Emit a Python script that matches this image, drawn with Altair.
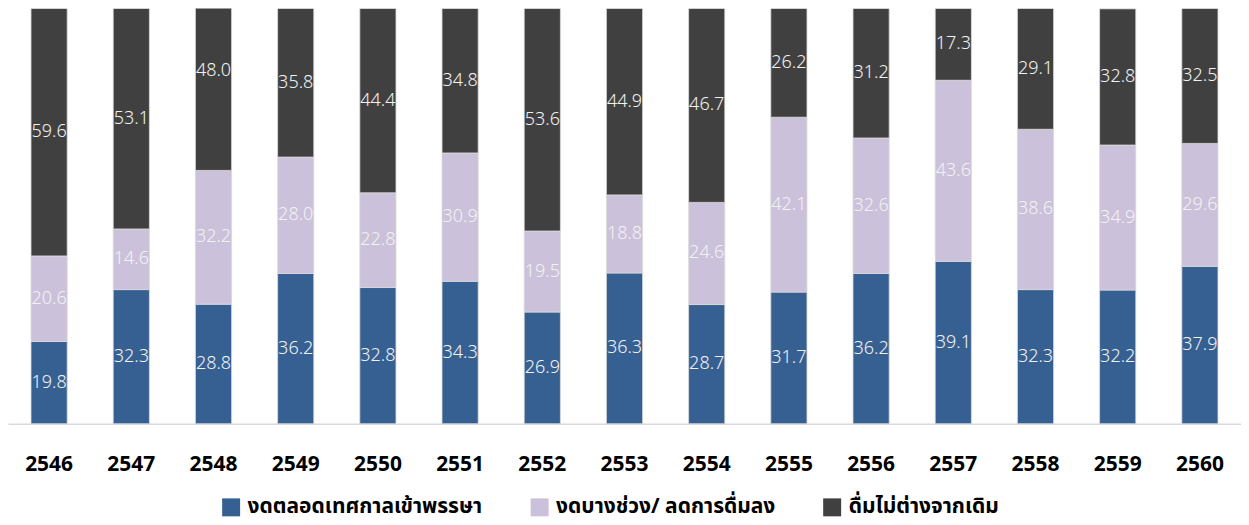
import altair as alt
import pandas as pd

years = ["2546", "2547", "2548", "2549", "2550", "2551", "2552", "2553",
         "2554", "2555", "2556", "2557", "2558", "2559", "2560"]
abstain_all = [19.8, 32.3, 28.8, 36.2, 32.8, 34.3, 26.9, 36.3, 28.7, 31.7, 36.2, 39.1, 32.3, 32.2, 37.9]
reduce_some = [20.6, 14.6, 32.2, 28.0, 22.8, 30.9, 19.5, 18.8, 24.6, 42.1, 32.6, 43.6, 38.6, 34.9, 29.6]
no_change = [59.6, 53.1, 48.0, 35.8, 44.4, 34.8, 53.6, 44.9, 46.7, 26.2, 31.2, 17.3, 29.1, 32.8, 32.5]

series_names = ["งดตลอดเทศกาลเข้าพรรษา", "งดบางช่วง/ ลดการดื่มลง", "ดื่มไม่ต่างจากเดิม"]
series_colors = ["#376092", "#ccc1da", "#404040"]

rows = []
for i, y in enumerate(years):
    for k, vals in enumerate([abstain_all, reduce_some, no_change]):
        rows.append({"year": y, "series": series_names[k], "order": k, "value": vals[i]})
df = pd.DataFrame(rows)

FONT = "Tahoma, 'Noto Sans Thai', 'Noto Sans', 'DejaVu Sans', sans-serif"

base = alt.Chart(df).transform_stack(
    stack="value", groupby=["year"], as_=["y0", "y1"],
    sort=[alt.SortField("order", order="ascending")]
).transform_calculate(
    mid="(datum.y0 + datum.y1) / 2",
    label="format(datum.value, '.1f')"
)

x_enc = alt.X("year:N", title=None,
              scale=alt.Scale(paddingInner=0.56, paddingOuter=0.28),
              axis=alt.Axis(labelAngle=0, ticks=False, domainColor="#d9d9d9", domainWidth=1.5,
                            labelFontSize=21, labelFontWeight="bold", labelColor="#000000",
                            labelFont="'Noto Sans', sans-serif", labelPadding=30, grid=False))

bars = base.mark_bar(clip=True, stroke="#d9d9d9", strokeWidth=0.8).encode(
    x=x_enc,
    y=alt.Y("y0:Q", scale=alt.Scale(domain=[0, 100], nice=False), axis=None),
    y2="y1:Q",
    color=alt.Color("series:N",
                    scale=alt.Scale(domain=series_names, range=series_colors),
                    legend=alt.Legend(title=None, orient="none", direction="horizontal",
                                      legendX=213, legendY=489, columns=3,
                                      symbolType="square", symbolSize=324, symbolStrokeWidth=0,
                                      labelFontSize=21, labelFont=FONT, labelColor="#000000",
                                      labelFontWeight="bold",
                                      columnPadding=46, labelOffset=6, labelLimit=400)),
    order=alt.Order("order:Q")
)

labels = base.mark_text(color="#f2f2f2", fontSize=18, font="'Noto Sans', sans-serif",
                        fontWeight=300, baseline="middle", align="center").encode(
    x=alt.X("year:N"),
    y=alt.Y("mid:Q"),
    text="label:N"
)

chart = alt.layer(bars, labels).properties(
    width=1235, height=416,
    padding={"left": 0, "top": 0, "right": 0, "bottom": 6}
).configure_view(stroke=None)

chart.save("out.html", embed_options={"renderer": "svg", "actions": False})
